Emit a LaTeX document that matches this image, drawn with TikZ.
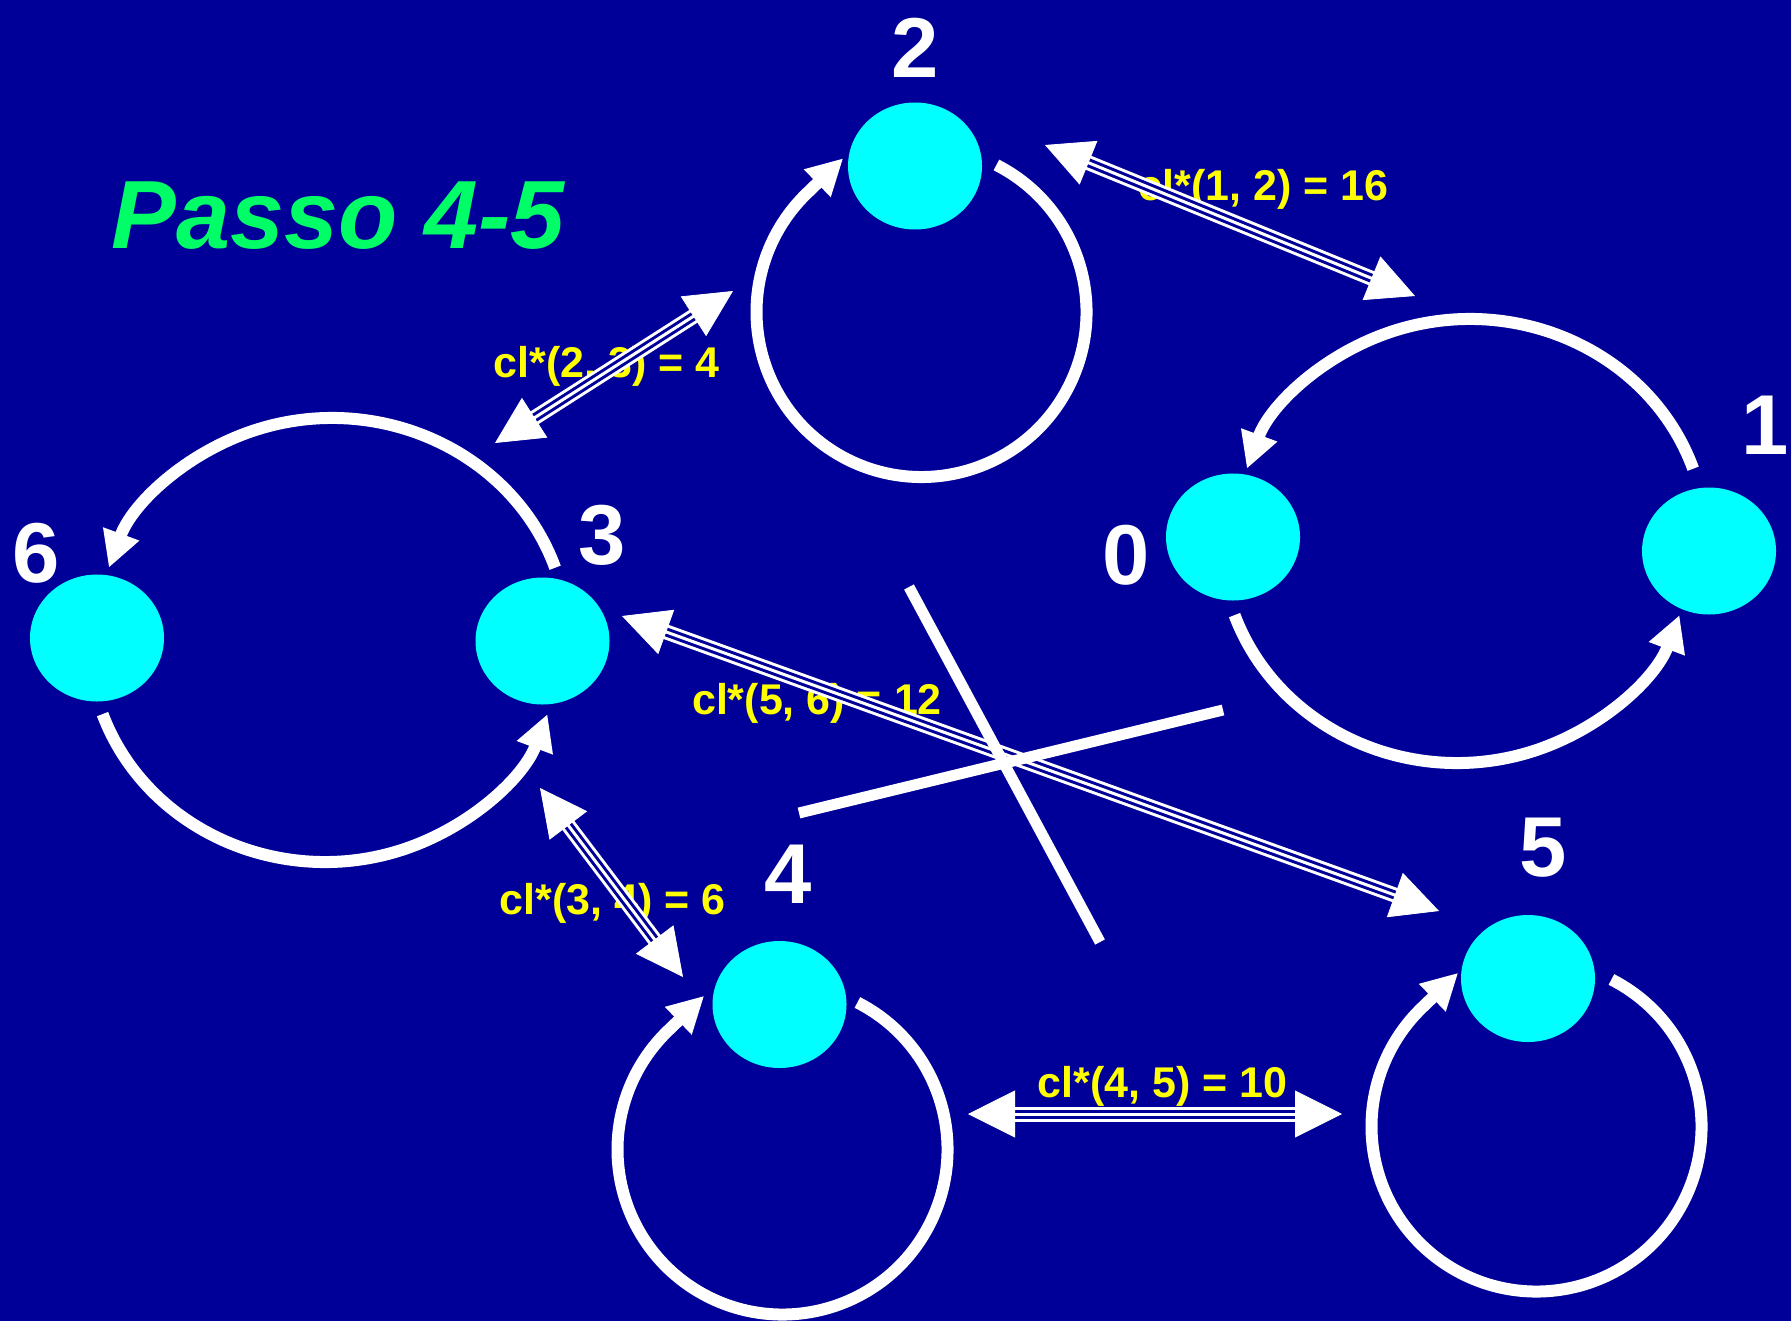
\documentclass[tikz,border=0pt]{standalone}
\usepackage{fontspec}
\setmainfont{Liberation Sans}
\usetikzlibrary{arrows.meta,shapes.geometric,calc}
\definecolor{bgblue}{HTML}{000099}
\definecolor{nodecyan}{HTML}{00FFFF}
\definecolor{titlegreen}{HTML}{00FF66}
\definecolor{labelyellow}{HTML}{FFFF00}
\newcommand{\twowayarrow}[2]{%
  \draw[white, line width=7.5pt, shorten <=22pt, shorten >=22pt] (#1) -- (#2);
  \draw[bgblue, line width=4.5pt, shorten <=22pt, shorten >=22pt] (#1) -- (#2);
  \draw[white, line width=1.5pt, shorten <=22pt, shorten >=22pt] (#1) -- (#2);
  \draw[bigtips] (#1) -- (#2);}
\begin{document}
\begin{tikzpicture}[x=0.5pt, y=-0.5pt,
  state/.style={ellipse, fill=nodecyan, minimum width=67pt, minimum height=63.5pt, inner sep=0pt},
  numlabel/.style={anchor=base, text=white, font=\fontsize{42.5}{42.5}\selectfont\bfseries, inner sep=0pt},
  costlabel/.style={anchor=base, text=labelyellow, font=\fontsize{21.5}{21.5}\selectfont\bfseries, inner sep=0pt},
  titlelabel/.style={anchor=base, text=titlegreen, font=\fontsize{48.5}{48.5}\selectfont\bfseries\itshape, inner sep=0pt},
  loopline/.style={white, line width=6pt, -{Triangle[length=18pt, width=18pt]}},
  bigtips/.style={white, line width=0.4pt, {Triangle[length=23.5pt, width=23.5pt]}-{Triangle[length=23.5pt, width=23.5pt]}},
  crossline/.style={white, line width=5.5pt}]

\fill[bgblue] (0,0) rectangle (1791,1321);
\useasboundingbox (0,0) rectangle (1791,1321);

% loop centres
\coordinate (c2) at (921.5,312);
\coordinate (c4) at (782.5,1149.5);
\coordinate (c5) at (1536.5,1126.5);
\coordinate (c01u) at (1470,541);
\coordinate (c01l) at (1457,541);
\coordinate (c63u) at (332,640);
\coordinate (c63l) at (325,640);

% self loops
\draw[loopline] ($(c2)+(-63:165)$) arc[start angle=-63, end angle=226, radius=165] -- ($(c2)+(243:172.5)$);
\draw[loopline] ($(c4)+(-63:165)$) arc[start angle=-63, end angle=226, radius=165] -- ($(c4)+(243:172.5)$);
\draw[loopline] ($(c5)+(-63:165)$) arc[start angle=-63, end angle=226, radius=165] -- ($(c5)+(243:172.5)$);

% two-node loops
\draw[loopline] ($(c01u)+(-19:236 and 222)$) arc[start angle=-19, end angle=-161, x radius=236, y radius=222];
\draw[loopline] ($(c01l)+(160.5:236 and 222)$) arc[start angle=160.5, end angle=19.5, x radius=236, y radius=222];
\draw[loopline] ($(c63u)+(-19:236 and 222)$) arc[start angle=-19, end angle=-161, x radius=236, y radius=222];
\draw[loopline] ($(c63l)+(160.5:236 and 222)$) arc[start angle=160.5, end angle=19.5, x radius=236, y radius=222];

% cost labels
\node[costlabel] (k12) at (1263.5,200) {cl*(1, 2) = 16};
\node[costlabel] (k23) at (606.5,377) {cl*(2, 3) = 4};
\node[costlabel] (k34) at (612.5,914) {cl*(3, 4) = 6};
\node[costlabel] (k45) at (1162.5,1097) {cl*(4, 5) = 10};
\node[costlabel] (k56) at (817,714.5) {cl*(5, 6) = 12};

% two-way arrow ends
\coordinate (e12a) at (1045,145);
\coordinate (e12b) at (1415,296);
\coordinate (e23a) at (733,291);
\coordinate (e23b) at (495,443);
\coordinate (e34a) at (540,788);
\coordinate (e34b) at (683,977);
\coordinate (e45a) at (968,1114);
\coordinate (e45b) at (1342,1114);
\coordinate (e56a) at (622,616);
\coordinate (e56b) at (1439,911);

\twowayarrow{e12a}{e12b}
\twowayarrow{e23a}{e23b}
\twowayarrow{e34a}{e34b}
\twowayarrow{e45a}{e45b}
\twowayarrow{e56a}{e56b}

% cross
\coordinate (xa1) at (909,587);
\coordinate (xa2) at (1100,942);
\coordinate (xb1) at (799,813);
\coordinate (xb2) at (1223,710);
\draw[crossline] (xa1) -- (xa2);
\draw[crossline] (xb1) -- (xb2);

% nodes
\node[state] (n2) at (915,166) {};
\node[state] (n0) at (1233,537) {};
\node[state] (n1) at (1709,551) {};
\node[state] (n6) at (97,638) {};
\node[state] (n3) at (542.5,641) {};
\node[state] (n4) at (779.5,1004.5) {};
\node[state] (n5) at (1528,978.5) {};

% node numbers
\node[numlabel] (t2) at (915,78) {2};
\node[numlabel] (t1) at (1765,454) {1};
\node[numlabel] (t0) at (1126,584) {0};
\node[numlabel] (t6) at (36,582) {6};
\node[numlabel] (t3) at (602.5,564) {3};
\node[numlabel] (t4) at (788,903) {4};
\node[numlabel] (t5) at (1543,876) {5};

% title
\node[titlelabel] (title) at (338,249) {Passo 4-5};
\end{tikzpicture}
\end{document}
